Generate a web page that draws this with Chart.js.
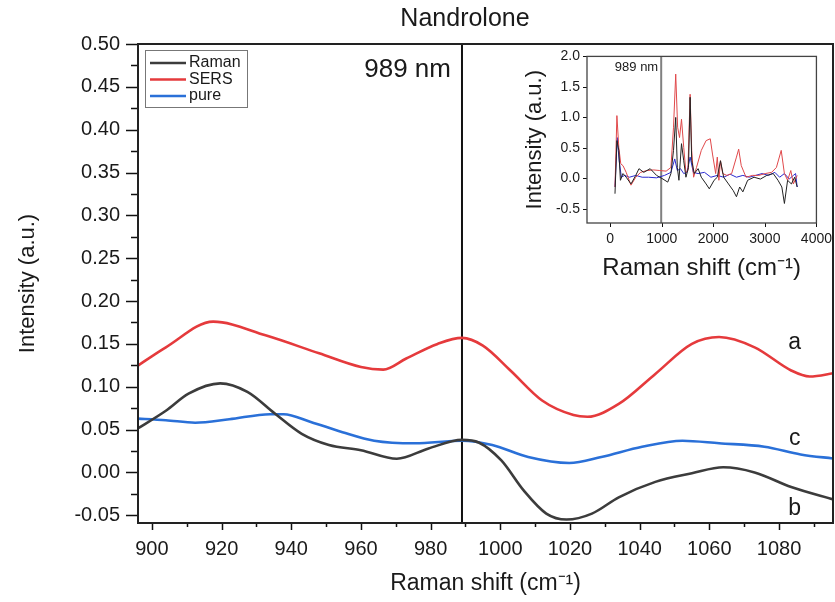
<!DOCTYPE html>
<html>
<head>
<meta charset="utf-8">
<script src="https://cdn.jsdelivr.net/npm/chart.js@4.4.1/dist/chart.umd.min.js"></script>
<style>
  body { margin: 0; background: #fff; }
  #wrap { position: relative; width: 835px; height: 602px; }
  #grafico { position: absolute; left: 0; top: 0; }
  #inset { position: absolute; left: 515px; top: 45px; }
</style>
</head>
<body>
<div id="wrap">
  <canvas id="grafico" width="835" height="602"></canvas>
  <canvas id="inset" width="320" height="245"></canvas>
</div>
<script>
// main panel, 895-1095 cm-1
const ramanX = [895, 904, 910.5, 919.6, 927.4, 935.2, 943, 950.8, 960, 970.3, 979.4, 989, 993.8, 1000.3, 1006.7, 1013.2, 1019, 1026.3, 1034, 1044.5, 1055, 1064, 1073, 1083.5, 1096];
const ramanY = [0.049, 0.072, 0.092, 0.104, 0.094, 0.069, 0.045, 0.032, 0.026, 0.016, 0.028, 0.038, 0.035, 0.014, -0.021, -0.048, -0.055, -0.048, -0.029, -0.011, -0.001, 0.006, 0.000, -0.017, -0.032];

const sersX = [895, 904, 917.6, 932.6, 948, 960, 966.4, 973, 982, 989, 995, 1002.9, 1012, 1021, 1025, 1034, 1044.5, 1055, 1062.8, 1073, 1083.5, 1088.8, 1096];
const sersY = [0.122, 0.146, 0.176, 0.160, 0.139, 0.123, 0.120, 0.133, 0.150, 0.157, 0.148, 0.119, 0.084, 0.067, 0.065, 0.080, 0.115, 0.150, 0.158, 0.146, 0.119, 0.112, 0.116];

const pureX = [895, 904, 912.4, 922.2, 933.9, 937.8, 945.6, 954.7, 963.8, 975.5, 989, 997.7, 1008, 1019.8, 1029, 1040.7, 1052.3, 1062.8, 1075.8, 1086.2, 1096];
const pureY = [0.063, 0.061, 0.058, 0.062, 0.068, 0.068, 0.059, 0.047, 0.037, 0.034, 0.037, 0.032, 0.018, 0.011, 0.018, 0.030, 0.037, 0.034, 0.030, 0.021, 0.016];

const mainXTicks = [900, 910, 920, 930, 940, 950, 960, 970, 980, 990, 1000, 1010, 1020, 1030, 1040, 1050, 1060, 1070, 1080, 1090];
const mainYTicks = [-0.05, -0.025, 0, 0.025, 0.05, 0.075, 0.1, 0.125, 0.15, 0.175, 0.2, 0.225, 0.25, 0.275, 0.3, 0.325, 0.35, 0.375, 0.4, 0.425, 0.45, 0.475, 0.5];

// inset, full spectra
const insRamanX = [93, 130, 167, 198, 248, 310, 403, 496, 558, 651, 775, 899, 1023, 1116, 1178, 1228, 1271, 1302, 1333, 1383, 1426, 1469, 1519, 1550, 1581, 1631, 1705, 1767, 1860, 1922, 2015, 2077, 2139, 2201, 2294, 2387, 2449, 2511, 2573, 2666, 2790, 2914, 3038, 3162, 3255, 3329, 3379, 3441, 3515, 3577, 3627];
const insRamanY = [-0.25, 0.62, 0.46, -0.03, 0.08, 0.02, -0.09, 0.05, 0.16, 0.10, 0.16, 0.05, -0.01, -0.06, 0.08, 0.46, 1.0, 0.18, -0.03, 0.57, 0.29, 0.02, 0.18, 1.33, 0.29, 0.08, 0.16, 0.02, -0.09, -0.17, -0.03, 0.02, 0.29, 0.02, -0.09, -0.20, -0.30, -0.14, -0.22, -0.03, 0.02, -0.01, 0.05, 0.08, -0.03, -0.14, -0.41, -0.03, -0.09, 0.02, -0.14];

const insSersX = [93, 130, 167, 205, 248, 310, 403, 496, 589, 713, 837, 961, 1085, 1178, 1228, 1271, 1308, 1345, 1383, 1426, 1469, 1507, 1550, 1581, 1618, 1674, 1767, 1860, 1941, 1984, 2046, 2077, 2108, 2139, 2182, 2263, 2356, 2449, 2492, 2542, 2635, 2759, 2883, 3007, 3131, 3224, 3317, 3379, 3441, 3503, 3553, 3627];
const insSersY = [-0.14, 1.03, 0.51, 0.24, 0.21, 0.10, -0.11, 0.02, 0.10, 0.13, 0.14, 0.13, 0.12, 0.18, 0.84, 1.71, 0.84, 0.67, 0.97, 0.51, 0.10, 0.13, 1.38, 0.46, 0.02, 0.18, 0.46, 0.62, 0.65, 0.40, 0.08, 0.35, -0.03, 0.29, 0.08, 0.05, 0.08, 0.35, 0.48, 0.21, 0.02, 0.05, 0.05, 0.08, 0.10, 0.18, 0.46, 0.08, -0.03, 0.13, -0.09, 0.05];

const insPureX = [93, 136, 174, 217, 279, 372, 496, 620, 744, 899, 1054, 1178, 1252, 1302, 1364, 1426, 1488, 1550, 1612, 1705, 1829, 1953, 2077, 2201, 2325, 2449, 2573, 2697, 2821, 2945, 3069, 3193, 3286, 3379, 3472, 3553, 3596, 3627];
const insPureY = [-0.14, 0.67, 0.29, 0.02, 0.05, 0.02, 0.05, 0.02, 0.02, 0.01, 0.05, 0.10, 0.32, 0.13, 0.16, 0.08, 0.10, 0.35, 0.10, 0.08, 0.10, 0.02, 0.05, 0.02, 0.07, 0.02, 0.05, 0.02, 0.05, 0.08, 0.05, 0.10, 0.02, 0.08, -0.01, 0.05, 0.08, -0.14];

const insXTicks = [0, 1000, 2000, 3000, 4000];
const insYTicks = [-0.5, 0, 0.5, 1.0, 1.5, 2.0];

const seriesNames = ['Raman', 'SERS', 'pure'];
const curveTags = ['b', 'a', 'c'];
const laserLine = 989;

const fonte = '"Liberation Sans", Arial, sans-serif';
Chart.defaults.font.family = fonte;
Chart.defaults.color = '#1a1a1a';

function pares(xs, ys) {
  return xs.map((v, i) => ({ x: v, y: ys[i] }));
}

function multiplo(v, step) {
  const r = v / step;
  return Math.abs(r - Math.round(r)) < 1e-6;
}

function fixaTicks(lista) {
  return s => { s.ticks = lista.map(v => ({ value: v })); };
}

function desenhaTicks(ctx, chart, majX, majY, lens) {
  const a = chart.chartArea;
  const { x, y } = chart.scales;
  ctx.save();
  ctx.strokeStyle = '#111';
  ctx.lineWidth = lens.w;
  ctx.beginPath();
  x.ticks.forEach(t => {
    const px = Math.round(x.getPixelForValue(t.value)) + 0.5;
    const len = multiplo(t.value, majX) ? lens.xMaj : lens.xMin;
    ctx.moveTo(px, a.bottom);
    ctx.lineTo(px, a.bottom + len);
  });
  y.ticks.forEach(t => {
    const py = Math.round(y.getPixelForValue(t.value)) + 0.5;
    const len = multiplo(t.value, majY) ? lens.yMaj : lens.yMin;
    ctx.moveTo(a.left, py);
    ctx.lineTo(a.left - len, py);
  });
  ctx.stroke();
  ctx.strokeStyle = lens.box;
  ctx.lineWidth = lens.boxW;
  ctx.strokeRect(a.left, a.top, a.right - a.left, a.bottom - a.top);
  ctx.restore();
}

const cores = { Raman: '#3c3c3c', SERS: '#e53a3c', pure: '#2a70d8' };

const mainDecor = {
  id: 'mainDecor',
  beforeDatasetsDraw(chart) {
    const { ctx, chartArea: a, scales: { x } } = chart;
    const px = x.getPixelForValue(laserLine);
    ctx.save();
    ctx.strokeStyle = '#111';
    ctx.lineWidth = 2;
    ctx.beginPath();
    ctx.moveTo(px, a.top);
    ctx.lineTo(px, a.bottom);
    ctx.stroke();
    ctx.restore();
  },
  afterDraw(chart) {
    const { ctx, scales: { x, y } } = chart;
    desenhaTicks(ctx, chart, 20, 0.05,
      { xMaj: 7, xMin: 4, yMaj: 12, yMin: 7, w: 1.5, box: '#222', boxW: 2 });

    ctx.save();
    ctx.fillStyle = '#1a1a1a';
    ctx.textBaseline = 'middle';

    ctx.font = '25px ' + fonte;
    ctx.textAlign = 'center';
    ctx.fillText('Nandrolone', 465, 19);

    ctx.font = '26px ' + fonte;
    ctx.textAlign = 'right';
    ctx.fillText('989 nm', x.getPixelForValue(laserLine) - 11, y.getPixelForValue(0.47));

    // curve tags
    ctx.font = '23px ' + fonte;
    ctx.textAlign = 'center';
    const tagY = { a: 0.151, b: -0.042, c: 0.040 };
    curveTags.forEach(t => {
      ctx.fillText(t, x.getPixelForValue(1084.5), y.getPixelForValue(tagY[t]));
    });

    // legend box
    ctx.strokeStyle = '#777';
    ctx.lineWidth = 1;
    ctx.strokeRect(145.5, 50.5, 102, 57);
    ctx.font = '16px ' + fonte;
    ctx.textAlign = 'left';
    chart.data.datasets.forEach((ds, i) => {
      const ly = 63 + i * 16.5;
      ctx.strokeStyle = ds.borderColor;
      ctx.lineWidth = 2.5;
      ctx.beginPath();
      ctx.moveTo(150, ly);
      ctx.lineTo(186, ly);
      ctx.stroke();
      ctx.fillText(ds.label, 189, ly);
    });
    ctx.restore();
  }
};

const ctx = document.getElementById('grafico').getContext('2d');

new Chart(ctx, {
  type: 'line',
  data: {
    datasets: [
      { label: seriesNames[0], data: pares(ramanX, ramanY), borderColor: cores.Raman },
      { label: seriesNames[1], data: pares(sersX, sersY), borderColor: cores.SERS },
      { label: seriesNames[2], data: pares(pureX, pureY), borderColor: cores.pure }
    ]
  },
  options: {
    responsive: false,
    animation: false,
    layout: { padding: { top: 44, right: 2, left: 0, bottom: 0 } },
    elements: {
      point: { radius: 0 },
      line: { borderWidth: 2.6, tension: 0.4, cubicInterpolationMode: 'monotone', fill: false }
    },
    plugins: { legend: { display: false }, title: { display: false }, tooltip: { enabled: false } },
    scales: {
      x: {
        type: 'linear',
        min: 896,
        max: 1095.5,
        afterBuildTicks: fixaTicks(mainXTicks),
        afterFit: s => { s.height = 79; },
        border: { display: false },
        grid: { drawOnChartArea: false, drawTicks: true, tickLength: 7, tickColor: 'rgba(0,0,0,0)' },
        ticks: {
          autoSkip: false, maxRotation: 0, padding: 7,
          font: { size: 20 }, color: '#1a1a1a',
          callback: v => multiplo(v, 20) ? String(v) : ''
        },
        title: { display: true, text: 'Raman shift (cm⁻¹)', font: { size: 23 }, color: '#1a1a1a', padding: { top: 0, bottom: 5 } }
      },
      y: {
        min: -0.059,
        max: 0.5,
        afterBuildTicks: fixaTicks(mainYTicks),
        afterFit: s => { s.width = 138; },
        border: { display: false },
        grid: { drawOnChartArea: false, drawTicks: true, tickLength: 12, tickColor: 'rgba(0,0,0,0)' },
        ticks: {
          autoSkip: false, padding: 6,
          font: { size: 20 }, color: '#1a1a1a',
          callback: v => multiplo(v, 0.05) ? v.toFixed(2) : ''
        },
        title: { display: true, text: 'Intensity (a.u.)', font: { size: 22 }, color: '#1a1a1a', padding: { top: 15, bottom: 0 } }
      }
    }
  },
  plugins: [mainDecor]
});

const insetDecor = {
  id: 'insetDecor',
  beforeDatasetsDraw(chart) {
    const { ctx, chartArea: a, scales: { x } } = chart;
    const px = x.getPixelForValue(laserLine);
    ctx.save();
    ctx.strokeStyle = '#808080';
    ctx.lineWidth = 2;
    ctx.beginPath();
    ctx.moveTo(px, a.top);
    ctx.lineTo(px, a.bottom);
    ctx.stroke();
    ctx.fillStyle = '#1a1a1a';
    ctx.font = '13px ' + fonte;
    ctx.textAlign = 'right';
    ctx.textBaseline = 'middle';
    ctx.fillText('989 nm', px - 3, a.top + 11);
    ctx.restore();
  },
  afterDraw(chart) {
    desenhaTicks(chart.ctx, chart, 1000, 0.5,
      { xMaj: 4, xMin: 4, yMaj: 4, yMin: 4, w: 1, box: '#444', boxW: 1.3 });
  }
};

const ctx2 = document.getElementById('inset').getContext('2d');

new Chart(ctx2, {
  type: 'line',
  data: {
    datasets: [
      { label: seriesNames[0], data: pares(insRamanX, insRamanY), borderColor: '#222222' },
      { label: seriesNames[1], data: pares(insSersX, insSersY), borderColor: '#e0484a' },
      { label: seriesNames[2], data: pares(insPureX, insPureY), borderColor: '#2a2ad0' }
    ]
  },
  options: {
    responsive: false,
    animation: false,
    layout: { padding: { top: 10, right: 13, left: 0, bottom: 0 } },
    elements: {
      point: { radius: 0 },
      line: { borderWidth: 1, tension: 0, fill: false }
    },
    plugins: { legend: { display: false }, title: { display: false }, tooltip: { enabled: false } },
    scales: {
      x: {
        type: 'linear',
        min: -450,
        max: 4000,
        afterBuildTicks: fixaTicks(insXTicks),
        afterFit: s => { s.height = 67; },
        border: { display: false },
        grid: { drawOnChartArea: false, drawTicks: true, tickLength: 5, tickColor: 'rgba(0,0,0,0)' },
        ticks: { autoSkip: false, maxRotation: 0, padding: 3, font: { size: 14 }, color: '#1a1a1a', callback: v => String(v) },
        title: { display: true, text: 'Raman shift (cm⁻¹)', font: { size: 24 }, color: '#1a1a1a', padding: { top: 0, bottom: 7 } }
      },
      y: {
        min: -0.73,
        max: 2.0,
        afterBuildTicks: fixaTicks(insYTicks),
        afterFit: s => { s.width = 72; },
        border: { display: false },
        grid: { drawOnChartArea: false, drawTicks: true, tickLength: 4, tickColor: 'rgba(0,0,0,0)' },
        ticks: { autoSkip: false, padding: 3, font: { size: 14 }, color: '#1a1a1a', callback: v => v.toFixed(1) },
        title: { display: true, text: 'Intensity (a.u.)', font: { size: 22 }, color: '#1a1a1a', padding: { top: 7, bottom: 0 } }
      }
    }
  },
  plugins: [insetDecor]
});
</script>
</body>
</html>
